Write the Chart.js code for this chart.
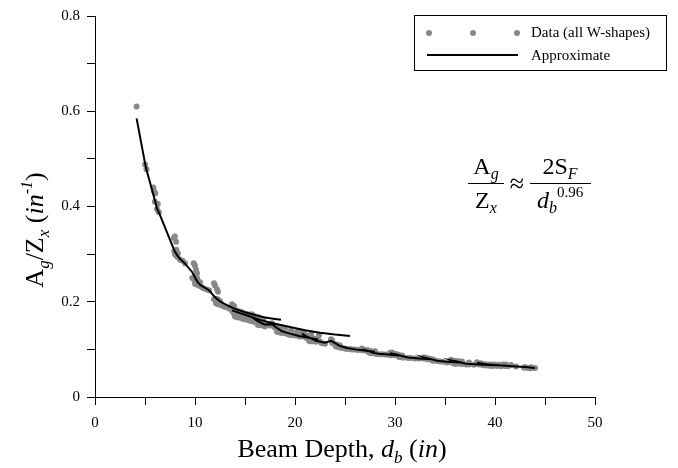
<!DOCTYPE html>
<html>
<head>
<meta charset="utf-8">
<script src="https://cdn.jsdelivr.net/npm/chart.js@4.4.0/dist/chart.umd.min.js"></script>
<style>
  body { margin: 0; background: #fff; }
  canvas { display: block; }
</style>
</head>
<body>
<canvas id="chart" width="678" height="468"></canvas>
<script>
const shapeDepth = [
  4.16,
  5.01, 5.15,
  5.83, 5.90, 6.03, 5.99, 6.28, 6.20, 6.38,
  7.89, 7.99, 8.11, 8.14, 8.28, 7.93, 8.06, 8.00, 8.12, 8.25, 8.50, 8.75, 9.00,
  9.87, 9.99, 10.1, 10.2, 10.2, 10.3, 10.5, 9.73, 9.92, 10.1, 10.0, 10.1, 10.2, 10.4, 10.6, 10.8, 11.1, 11.4,
  11.9, 12.0, 12.2, 12.3, 12.2, 12.3, 12.5, 11.9, 12.1, 12.2, 12.1, 12.2, 12.1, 12.3, 12.4, 12.5, 12.7, 12.9, 13.1, 13.4, 13.7, 14.0, 14.4, 14.7, 15.1, 15.4, 15.9, 16.3, 16.8,
  13.7, 13.9, 13.8, 14.0, 14.1, 13.7, 13.8, 13.9, 13.9, 14.0, 14.2, 14.3, 14.0, 14.2, 14.3, 14.5, 14.7, 14.8, 15.0, 15.2, 15.5, 15.7, 16.0, 16.4, 16.7, 17.1, 17.5, 17.9, 18.3, 18.7, 19.0, 19.6, 20.2, 20.9, 21.6, 22.4,
  15.7, 15.9, 15.9, 16.0, 16.1, 16.3, 16.4, 16.3, 16.5, 16.8, 17.0,
  17.7, 17.9, 18.1, 18.0, 18.1, 18.2, 18.4, 18.5, 18.2, 18.4, 18.6, 18.7, 19.0, 19.3, 19.5, 19.7, 20.0, 20.4, 20.7, 21.1, 21.5, 21.9, 22.3,
  20.7, 20.8, 21.1, 20.6, 20.8, 21.0, 21.1, 21.2, 21.4, 21.6, 21.4, 21.5, 21.7, 21.8, 22.1, 22.5, 22.7, 23.0,
  23.6, 23.7, 23.7, 23.9, 24.1, 24.3, 24.5, 24.1, 24.3, 24.5, 24.7, 25.0, 25.2, 25.5, 25.7, 26.0, 26.3, 26.7, 27.1, 27.5, 28.0,
  26.7, 26.9, 27.1, 27.3, 27.6, 27.4, 27.6, 27.8, 28.1, 28.4, 28.7, 29.0, 29.3, 29.6, 30.0, 30.4,
  29.5, 29.7, 29.8, 30.0, 30.2, 30.3, 30.7, 30.4, 30.7, 30.9, 31.3, 31.6, 32.0, 32.4, 32.8, 33.2,
  32.9, 33.1, 33.3, 33.5, 33.8, 33.7, 33.9, 34.2, 34.5, 34.8, 35.2, 35.6, 36.0,
  35.6, 35.9, 36.0, 36.2, 36.3, 36.5, 36.7, 35.9, 36.0, 37.4, 36.1, 36.5, 36.7, 37.1, 37.4, 37.9, 38.4, 38.9, 39.4, 41.1,
  38.2, 38.6, 39.0, 38.7, 39.4, 39.0, 39.7, 39.4, 40.0, 39.7, 40.4, 39.8, 40.2, 40.8, 40.6, 41.1, 41.6, 41.0, 41.3, 42.1, 43.0, 43.6,
  42.9, 43.3, 43.6, 44.0
];
const shapeRatio = [
  0.610,
  0.488, 0.478,
  0.440, 0.432, 0.428, 0.410, 0.405, 0.394, 0.388,
  0.334, 0.337, 0.326, 0.309, 0.302, 0.306, 0.303, 0.300, 0.297, 0.294, 0.288, 0.286, 0.281,
  0.281, 0.276, 0.267, 0.260, 0.250, 0.243, 0.241, 0.250, 0.246, 0.242, 0.238, 0.237, 0.236, 0.234, 0.232, 0.229, 0.226, 0.224,
  0.239, 0.234, 0.226, 0.221, 0.206, 0.204, 0.201, 0.205, 0.204, 0.203, 0.200, 0.197, 0.197, 0.195, 0.195, 0.194, 0.192, 0.190, 0.189, 0.186, 0.184, 0.182, 0.180, 0.178, 0.175, 0.173, 0.170, 0.168, 0.164,
  0.195, 0.191, 0.187, 0.183, 0.182, 0.181, 0.180, 0.179, 0.175, 0.174, 0.173, 0.173, 0.169, 0.168, 0.167, 0.167, 0.166, 0.164, 0.163, 0.162, 0.160, 0.159, 0.157, 0.155, 0.154, 0.152, 0.150, 0.148, 0.146, 0.144, 0.143, 0.140, 0.137, 0.135, 0.132, 0.130,
  0.174, 0.169, 0.166, 0.162, 0.162, 0.160, 0.160, 0.151, 0.151, 0.150, 0.148,
  0.155, 0.150, 0.149, 0.146, 0.145, 0.143, 0.144, 0.143, 0.137, 0.136, 0.135, 0.135, 0.134, 0.132, 0.130, 0.130, 0.129, 0.127, 0.127, 0.126, 0.124, 0.123, 0.121,
  0.136, 0.134, 0.129, 0.132, 0.129, 0.127, 0.125, 0.125, 0.124, 0.124, 0.118, 0.117, 0.117, 0.117, 0.116, 0.116, 0.113, 0.112,
  0.121, 0.119, 0.114, 0.112, 0.110, 0.109, 0.108, 0.106, 0.105, 0.104, 0.103, 0.102, 0.101, 0.101, 0.100, 0.0996, 0.0988, 0.098, 0.097, 0.096, 0.096,
  0.102, 0.099, 0.098, 0.098, 0.096, 0.0935, 0.092, 0.092, 0.0905, 0.090, 0.090, 0.0893, 0.0887, 0.0876, 0.0875, 0.0879,
  0.093, 0.0933, 0.0916, 0.0905, 0.0895, 0.0888, 0.0872, 0.084, 0.0831, 0.083, 0.0819, 0.0818, 0.0811, 0.0806, 0.0808, 0.0793,
  0.0836, 0.082, 0.0807, 0.0803, 0.0787, 0.0766, 0.0762, 0.0756, 0.0744, 0.0738, 0.0726, 0.0732, 0.0731,
  0.0784, 0.0762, 0.0753, 0.0749, 0.0747, 0.0743, 0.0743, 0.0706, 0.0704, 0.0724, 0.070, 0.0697, 0.0695, 0.0682, 0.0684, 0.0678, 0.068, 0.0671, 0.067, 0.066,
  0.0732, 0.0711, 0.0689, 0.0677, 0.0685, 0.0659, 0.0684, 0.0656, 0.0685, 0.0652, 0.0679, 0.0656, 0.0653, 0.068, 0.0646, 0.068, 0.067, 0.065, 0.0648, 0.0638, 0.063, 0.0627,
  0.0616, 0.0608, 0.0606, 0.0608
];

// approximate curve, drawn family by family (null = pen up)
const approxDepth = [
  4.16, 5.01, 5.15, 5.83, 6.03, 6.20, 6.38,
  7.89, 8.00, 8.25, 8.50, 9.00,
  9.73, 9.90, 10.1, 10.3, 10.6, 11.1, 11.4,
  11.9, 12.2, 12.5, 12.9, 13.4, 14.0, 15.0, 16.0, 17.0, 18.0, 18.6, null,
  13.7, 14.5, 15.5, 16.5, 18.0, 19.5, 21.0, 22.5, 24.0, 25.5, null,
  15.7, 16.0, 16.4, 17.0,
  17.7, 18.2, 18.7, 19.5, 20.4, 21.5, 22.3, null,
  20.7, 21.1, 21.6, 22.1, 23.0,
  23.6, 24.1, 24.5, 25.2, 26.0, 27.1, 28.0, null,
  26.7, 27.3, 27.8, 28.4, 29.3, 30.4,
  29.5, 30.0, 30.7, 31.3, 32.4, 33.2,
  32.9, 33.5, 34.2, 35.2, 36.0,
  35.6, 36.3, 37.1, 38.4, 39.4, 41.1, null,
  38.2, 39.4, 40.6, 42.1, 43.0, 44.0
];
const approxRatio = [
  0.585, 0.490, 0.477, 0.425, 0.410, 0.395, 0.388,
  0.310, 0.305, 0.297, 0.290, 0.280,
  0.262, 0.255, 0.247, 0.240, 0.234, 0.228, 0.224,
  0.212, 0.206, 0.201, 0.196, 0.191, 0.185, 0.178, 0.172, 0.167, 0.164, 0.162, null,
  0.182, 0.176, 0.169, 0.162, 0.154, 0.147, 0.140, 0.135, 0.131, 0.128, null,
  0.168, 0.163, 0.158, 0.152,
  0.153, 0.145, 0.138, 0.133, 0.128, 0.124, 0.121, null,
  0.133, 0.128, 0.123, 0.118, 0.114,
  0.118, 0.112, 0.107, 0.103, 0.100, 0.097, 0.095, null,
  0.100, 0.097, 0.093, 0.091, 0.089, 0.087,
  0.092, 0.090, 0.086, 0.083, 0.081, 0.080,
  0.083, 0.080, 0.076, 0.074, 0.073,
  0.077, 0.074, 0.070, 0.068, 0.067, 0.066, null,
  0.072, 0.068, 0.066, 0.064, 0.063, 0.061
];

const xLabelled = [0, 10, 20, 30, 40, 50];
const yLabelled = [0, 0.2, 0.4, 0.6, 0.8];

const SERIF = "'Liberation Serif', 'Times New Roman', serif";

// draws a row of text pieces (font / vertical shift) starting at x
function drawRuns(ctx, runs, x, y, align) {
  let total = 0;
  runs.forEach(r => { ctx.font = r.font; total += ctx.measureText(r.text).width; });
  let cx = align === 'center' ? x - total / 2 : x;
  ctx.textAlign = 'left';
  ctx.textBaseline = 'alphabetic';
  runs.forEach(r => {
    ctx.font = r.font;
    ctx.fillText(r.text, cx, y + (r.dy || 0));
    cx += ctx.measureText(r.text).width;
  });
  return total;
}

const decorations = {
  id: 'decorations',
  afterDraw(chart) {
    const ctx = chart.ctx;
    ctx.save();
    ctx.fillStyle = '#000';

    // y axis title
    ctx.save();
    ctx.translate(43, 230);
    ctx.rotate(-Math.PI / 2);
    drawRuns(ctx, [
      { text: 'A', font: `26px ${SERIF}` },
      { text: 'g', font: `italic 17px ${SERIF}`, dy: 6 },
      { text: '/Z', font: `26px ${SERIF}` },
      { text: 'x', font: `italic 17px ${SERIF}`, dy: 6 },
      { text: ' (', font: `26px ${SERIF}` },
      { text: 'in', font: `italic 26px ${SERIF}` },
      { text: '-1', font: `italic 16px ${SERIF}`, dy: -11 },
      { text: ')', font: `26px ${SERIF}` }
    ], 0, 0, 'center');
    ctx.restore();

    // x axis title
    drawRuns(ctx, [
      { text: 'Beam Depth, ', font: `26px ${SERIF}` },
      { text: 'd', font: `italic 26px ${SERIF}` },
      { text: 'b', font: `italic 17px ${SERIF}`, dy: 6 },
      { text: ' (', font: `26px ${SERIF}` },
      { text: 'in', font: `italic 26px ${SERIF}` },
      { text: ')', font: `26px ${SERIF}` }
    ], 342, 457, 'center');

    // legend
    ctx.strokeStyle = '#000';
    ctx.lineWidth = 1;
    ctx.strokeRect(414.5, 15.5, 252, 55);
    ctx.fillStyle = '#888';
    [429, 473, 517].forEach(px => {
      ctx.beginPath();
      ctx.arc(px, 33, 3, 0, Math.PI * 2);
      ctx.fill();
    });
    ctx.strokeStyle = '#000';
    ctx.lineWidth = 2;
    ctx.beginPath();
    ctx.moveTo(427, 55);
    ctx.lineTo(518, 55);
    ctx.stroke();
    ctx.fillStyle = '#000';
    ctx.font = `15px ${SERIF}`;
    ctx.textAlign = 'left';
    ctx.textBaseline = 'middle';
    ctx.fillText('Data (all W-shapes)', 531, 33);
    ctx.fillText('Approximate', 531, 56);

    // equation
    drawRuns(ctx, [
      { text: 'A', font: `24px ${SERIF}` },
      { text: 'g', font: `italic 16px ${SERIF}`, dy: 5 }
    ], 486, 174, 'center');
    drawRuns(ctx, [
      { text: 'Z', font: `24px ${SERIF}` },
      { text: 'x', font: `italic 16px ${SERIF}`, dy: 5 }
    ], 486, 208, 'center');
    ctx.lineWidth = 1;
    ctx.beginPath();
    ctx.moveTo(468, 183.5); ctx.lineTo(504, 183.5);
    ctx.moveTo(530, 183.5); ctx.lineTo(591, 183.5);
    ctx.stroke();
    drawRuns(ctx, [{ text: '\u2248', font: `26px ${SERIF}` }], 517, 192, 'center');
    drawRuns(ctx, [
      { text: '2S', font: `24px ${SERIF}` },
      { text: 'F', font: `italic 16px ${SERIF}`, dy: 5 }
    ], 560, 174, 'center');
    drawRuns(ctx, [
      { text: 'd', font: `italic 24px ${SERIF}` },
      { text: 'b', font: `italic 16px ${SERIF}`, dy: 5 },
      { text: '0.96', font: `15px ${SERIF}`, dy: -11 }
    ], 560, 208, 'center');

    ctx.restore();
  }
};

const ctx = document.getElementById('chart').getContext('2d');
new Chart(ctx, {
  type: 'scatter',
  data: {
    datasets: [
      {
        label: 'Data (all W-shapes)',
        data: shapeDepth.map((d, i) => ({ x: d, y: shapeRatio[i] })),
        backgroundColor: '#888888',
        borderColor: '#888888',
        pointRadius: 3,
        pointBorderWidth: 0,
        showLine: false,
        order: 2
      },
      {
        label: 'Approximate',
        data: approxDepth.map((d, i) => ({ x: d, y: approxRatio[i] })),
        borderColor: '#000',
        backgroundColor: '#000',
        borderWidth: 2,
        pointRadius: 0,
        showLine: true,
        spanGaps: false,
        order: 1
      }
    ]
  },
  options: {
    responsive: false,
    animation: false,
    layout: { padding: { left: 0, right: 83, top: 15, bottom: 0 } },
    plugins: {
      legend: { display: false },
      tooltip: { enabled: false }
    },
    scales: {
      x: {
        type: 'linear',
        min: 0, max: 50,
        afterFit(scale) { scale.height = 71; },
        ticks: {
          stepSize: 5,
          color: '#000',
          padding: 9,
          maxRotation: 0,
          font: { family: SERIF, size: 15 },
          callback: v => xLabelled.includes(v) ? String(v) : ''
        },
        grid: { drawOnChartArea: false, drawTicks: true, tickLength: 8, tickColor: '#000' },
        border: { display: true, color: '#000', width: 1 }
      },
      y: {
        type: 'linear',
        min: 0, max: 0.8,
        afterFit(scale) { scale.width = 95; },
        ticks: {
          stepSize: 0.1,
          color: '#000',
          padding: 7,
          font: { family: SERIF, size: 15 },
          callback: v => {
            const r = Math.round(v * 10) / 10;
            return yLabelled.some(t => Math.abs(t - r) < 1e-9) ? String(r) : '';
          }
        },
        grid: { drawOnChartArea: false, drawTicks: true, tickLength: 8, tickColor: '#000' },
        border: { display: true, color: '#000', width: 1 }
      }
    }
  },
  plugins: [decorations]
});
</script>
</body>
</html>
